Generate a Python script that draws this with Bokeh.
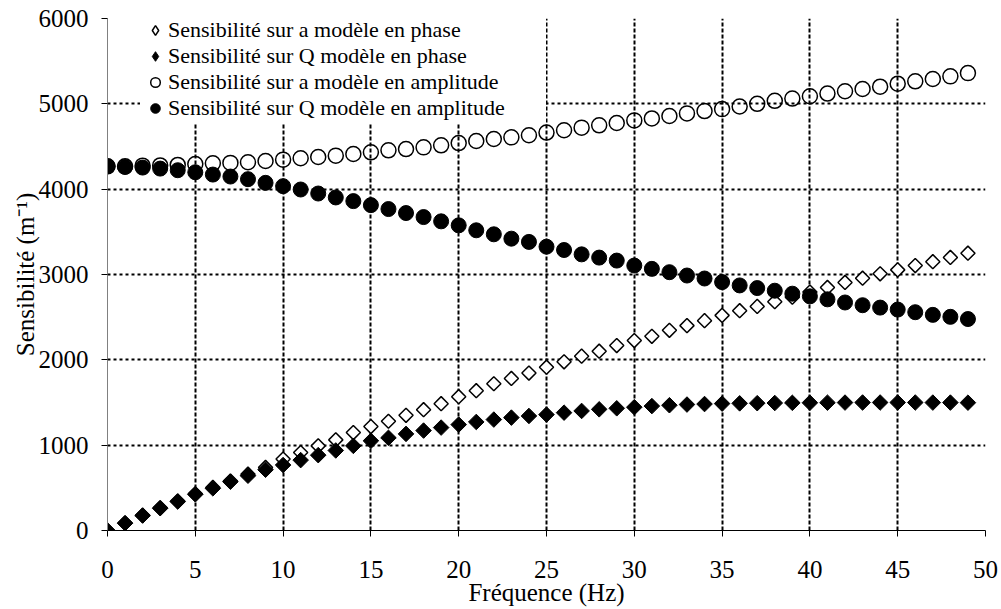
import numpy as np
from bokeh.plotting import figure
from bokeh.models import Legend, LegendItem, Range1d, FixedTicker
from bokeh.embed import file_html
from bokeh.resources import INLINE

freq = [0, 1, 2, 3, 4, 5, 6, 7, 8, 9, 10, 11, 12, 13, 14, 15, 16, 17, 18, 19,
        20, 21, 22, 23, 24, 25, 26, 27, 28, 29, 30, 31, 32, 33, 34, 35, 36, 37, 38, 39,
        40, 41, 42, 43, 44, 45, 46, 47, 48, 49]

sens_a_phase = [0, 88, 178, 265, 345, 430, 505, 580, 660, 739,
                837, 914, 992, 1062, 1148, 1218, 1280, 1350, 1416, 1486,
                1568, 1638, 1720, 1782, 1845, 1914, 1977, 2043, 2101, 2167,
                2226, 2276, 2346, 2401, 2459, 2521, 2576, 2626, 2681, 2735,
                2794, 2848, 2907, 2957, 3008, 3054, 3105, 3150, 3200, 3250]

sens_q_phase = [0, 86, 175, 261, 339, 424, 494, 572, 642, 712,
                767, 825, 883, 938, 992, 1051, 1086, 1132, 1171, 1206,
                1241, 1272, 1300, 1323, 1342, 1358, 1381, 1401, 1420, 1432,
                1445, 1458, 1468, 1476, 1482, 1487, 1490, 1492, 1494, 1496,
                1497, 1498, 1499, 1500, 1500, 1500, 1500, 1499, 1499, 1498]

sens_a_ampl = [4268, 4268, 4275, 4278, 4284, 4295, 4303, 4308, 4315, 4330,
               4346, 4362, 4377, 4393, 4412, 4432, 4455, 4470, 4490, 4514,
               4540, 4564, 4588, 4607, 4632, 4663, 4690, 4721, 4748, 4775,
               4806, 4829, 4857, 4888, 4915, 4938, 4969, 5000, 5035, 5062,
               5089, 5120, 5147, 5174, 5201, 5236, 5264, 5291, 5322, 5360]

sens_q_ampl = [4268, 4260, 4253, 4241, 4222, 4198, 4171, 4148, 4117, 4074,
               4035, 3996, 3949, 3903, 3860, 3813, 3767, 3720, 3673, 3623,
               3576, 3518, 3471, 3420, 3382, 3326, 3287, 3236, 3198, 3163,
               3105, 3066, 3027, 2988, 2953, 2911, 2872, 2841, 2810, 2775,
               2744, 2709, 2672, 2640, 2612, 2589, 2558, 2527, 2504, 2478]

labels = ["Sensibilité sur a modèle en phase",
          "Sensibilité sur Q modèle en phase",
          "Sensibilité sur a modèle en amplitude",
          "Sensibilité sur Q modèle en amplitude"]

x_ticks = [0, 5, 10, 15, 20, 25, 30, 35, 40, 45, 50]
y_ticks = [0, 1000, 2000, 3000, 4000, 5000, 6000]

FONT = "Liberation Serif"

p = figure(width=1000, height=608, output_backend="svg", toolbar_location=None,
           x_range=Range1d(0, 50), y_range=Range1d(0, 6000),
           min_border_left=107, min_border_right=15, min_border_top=18, min_border_bottom=76)
p.outline_line_color = None
p.background_fill_color = "white"
p.border_fill_color = "white"

# grids
p.xgrid.ticker = FixedTicker(ticks=x_ticks)
p.ygrid.ticker = FixedTicker(ticks=y_ticks)
p.xgrid.grid_line_color = "black"
p.xgrid.grid_line_width = 2
p.xgrid.grid_line_dash = "4 2"
p.ygrid.grid_line_color = "black"
p.ygrid.grid_line_width = 2
p.ygrid.grid_line_dash = "3 3"

# axes
p.xaxis.ticker = FixedTicker(ticks=x_ticks)
p.yaxis.ticker = FixedTicker(ticks=y_ticks)
for ax in (p.xaxis, p.yaxis):
    ax.major_label_text_font = FONT
    ax.major_label_text_font_size = "25px"
    ax.major_label_text_color = "black"
    ax.axis_label_text_font = FONT
    ax.axis_label_text_font_size = "25px"
    ax.axis_label_text_font_style = "normal"
    ax.axis_label_text_color = "black"
    ax.minor_tick_line_color = None
    ax.major_tick_in = 0
    ax.major_tick_out = 6
p.xaxis.axis_line_color = "black"
p.xaxis.major_tick_line_color = "black"
p.yaxis.axis_line_color = "#808080"
p.yaxis.major_tick_line_color = "black"
p.xaxis.axis_label = "Fréquence (Hz)"
p.yaxis.axis_label = "Sensibilité (m⁻¹)"
p.xaxis.major_label_standoff = 24
p.xaxis.axis_label_standoff = -2
p.yaxis.major_label_standoff = 13
p.yaxis.axis_label_standoff = -3

ang = np.pi / 4
r1 = p.scatter(freq, sens_a_phase, marker="square", angle=ang, size=10,
               fill_color="white", fill_alpha=1, line_color="black", line_width=1.5)
r3 = p.scatter(freq, sens_a_ampl, marker="circle", size=15,
               fill_alpha=0, line_color="black", line_width=1.5)
r2 = p.scatter(freq, sens_q_phase, marker="square", angle=ang, size=11,
               fill_color="black", line_color="black", line_width=1)
r4 = p.scatter(freq, sens_q_ampl, marker="circle", size=15,
               fill_color="black", line_color="black", line_width=1)

# legend-only proxies for the diamond markers (legend glyphs ignore angle);
# their single point is NaN, so nothing is drawn in the plot area
l1 = p.scatter([np.nan], [np.nan], marker="diamond", size=16,
               fill_color="white", line_color="black", line_width=1.5)
l2 = p.scatter([np.nan], [np.nan], marker="diamond", size=16,
               fill_color="black", line_color="black", line_width=1)

legend = Legend(items=[LegendItem(label=labels[0], renderers=[l1]),
                       LegendItem(label=labels[1], renderers=[l2]),
                       LegendItem(label=labels[2], renderers=[r3]),
                       LegendItem(label=labels[3], renderers=[r4])],
                location=(33, 407))
legend.label_text_font = FONT
legend.label_text_font_size = "22px"
legend.label_text_color = "black"
legend.label_height = 24
legend.label_width = 376
legend.glyph_height = 24
legend.glyph_width = 26
legend.label_standoff = 0
legend.spacing = -5
legend.padding = 2
legend.margin = 0
legend.border_line_alpha = 0
legend.background_fill_color = "white"
legend.background_fill_alpha = 1
p.add_layout(legend, "center")

open("out.html", "w").write(file_html(p, INLINE))
